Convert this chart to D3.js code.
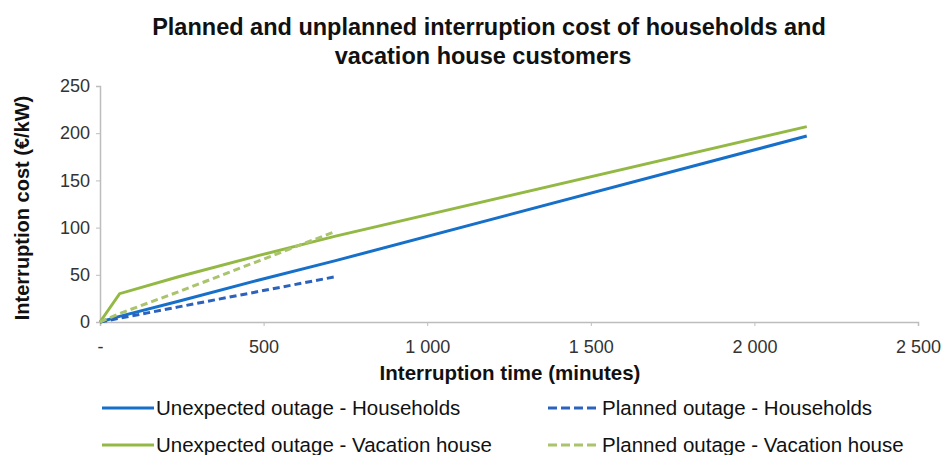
<!DOCTYPE html>
<html>
<head>
<meta charset="utf-8">
<script src="https://cdn.jsdelivr.net/npm/d3@7"></script>
<style>
  body { margin: 0; background: #fff; }
  text { font-family: "Liberation Sans", Arial, sans-serif; }
</style>
</head>
<body>
<div id="canvas"></div>
<script>
const w = 942, h = 455;

// interruption time in minutes, cost in €/kW
const unexpectedHouseMin = [0, 60, 240, 480, 720, 2160];
const unexpectedHouseCost = [0, 6, 22, 44, 65, 197];
const plannedHouseMin = [0, 60, 240, 480, 720];
const plannedHouseCost = [0, 4, 16, 32, 48];
const unexpectedVacMin = [0, 60, 240, 480, 720, 2160];
const unexpectedVacCost = [0, 30, 48, 70, 91, 207];
const plannedVacMin = [0, 60, 240, 480, 720];
const plannedVacCost = [0, 9, 32, 64, 96];

const xTicks = [0, 500, 1000, 1500, 2000, 2500];
const yTicks = [0, 50, 100, 150, 200, 250];

const seriesNames = [
  "Unexpected outage - Households",
  "Planned outage - Households",
  "Unexpected outage - Vacation house",
  "Planned outage - Vacation house"
];

const zip = (a, b) => a.map((v, i) => ({x: v, y: b[i]}));
const series = [
  {name: seriesNames[0], pts: zip(unexpectedHouseMin, unexpectedHouseCost), color: "#1670c9", dash: null},
  {name: seriesNames[1], pts: zip(plannedHouseMin, plannedHouseCost), color: "#2a62bd", dash: "7,4"},
  {name: seriesNames[2], pts: zip(unexpectedVacMin, unexpectedVacCost), color: "#93b944", dash: null},
  {name: seriesNames[3], pts: zip(plannedVacMin, plannedVacCost), color: "#a9c46c", dash: "7,4"}
];

const margin = {left: 100, right: 24, top: 86, bottom: 133};

let svg = d3.select("#canvas")
  .append("svg")
    .attr("width", w)
    .attr("height", h)
    .attr("viewBox", [0, 0, w, h]);

const x = d3.scaleLinear().domain([0, 2500]).range([margin.left, w - margin.right]);
const y = d3.scaleLinear().domain([0, 250]).range([h - margin.bottom, margin.top]);

// title
svg.append("text")
  .attr("x", 489).attr("y", 35)
  .attr("text-anchor", "middle")
  .attr("font-size", 23.5).attr("font-weight", "bold").attr("fill", "#111")
  .text("Planned and unplanned interruption cost of households and");
svg.append("text")
  .attr("x", 483).attr("y", 64)
  .attr("text-anchor", "middle")
  .attr("font-size", 23.5).attr("font-weight", "bold").attr("fill", "#111")
  .text("vacation house customers");

// axes
const fmt = d => d === 0 ? "-" : d3.format(",")(d).replace(",", " ");
const xAxis = d3.axisBottom(x).tickValues(xTicks).tickSize(4).tickPadding(14).tickFormat(fmt);
const yAxis = d3.axisLeft(y).tickValues(yTicks).tickSize(4).tickPadding(6);

const gX = svg.append("g")
  .attr("transform", "translate(0," + y(0) + ")")
  .call(xAxis);
const gY = svg.append("g")
  .attr("transform", "translate(" + x(0) + ",0)")
  .call(yAxis);

[gX, gY].forEach(g => {
  g.select(".domain").attr("stroke", "#bdbdbd").attr("stroke-width", 1.5);
  g.selectAll(".tick line").attr("stroke", "#bdbdbd");
  g.selectAll(".tick text").attr("font-size", 18).attr("fill", "#333")
    .attr("font-family", "Liberation Sans, Arial, sans-serif");
});

svg.append("text")
  .attr("x", 510).attr("y", 380)
  .attr("text-anchor", "middle")
  .attr("font-size", 20.5).attr("font-weight", "bold").attr("fill", "#111")
  .text("Interruption time (minutes)");

svg.append("text")
  .attr("transform", "translate(29," + 208 + ") rotate(-90)")
  .attr("text-anchor", "middle")
  .attr("font-size", 20).attr("font-weight", "bold").attr("fill", "#111")
  .text("Interruption cost (€/kW)");

// lines
const line = d3.line().x(d => x(d.x)).y(d => y(d.y));
svg.append("g").selectAll("path")
  .data(series)
  .enter().append("path")
    .attr("d", d => line(d.pts))
    .attr("fill", "none")
    .attr("stroke", d => d.color)
    .attr("stroke-width", 3)
    .attr("stroke-dasharray", d => d.dash);

// legend
const legendPos = [[102, 408], [548, 408], [102, 445], [548, 445]];
const lg = svg.append("g").selectAll("g")
  .data(series)
  .enter().append("g")
    .attr("transform", (d, i) => "translate(" + legendPos[i][0] + "," + legendPos[i][1] + ")");
lg.append("line")
  .attr("x1", 0).attr("x2", 52)
  .attr("stroke", d => d.color)
  .attr("stroke-width", 3)
  .attr("stroke-dasharray", d => d.dash ? "9,4" : null);
lg.append("text")
  .attr("x", 54).attr("dy", "0.35em")
  .attr("font-size", 20.5).attr("fill", "#111")
  .text(d => d.name);
</script>
</body>
</html>
